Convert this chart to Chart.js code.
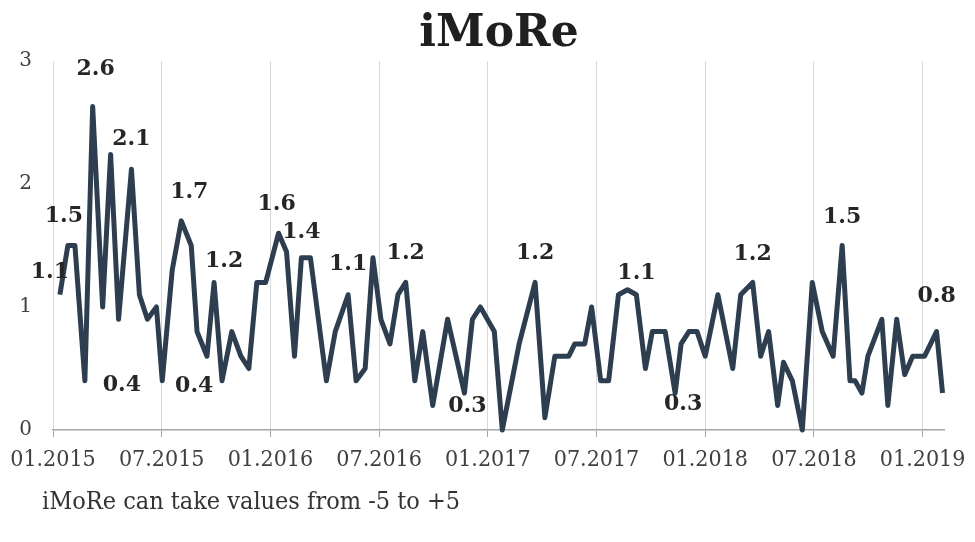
<!DOCTYPE html>
<html>
<head>
<meta charset="utf-8">
<title>iMoRe</title>
<script src="https://cdn.jsdelivr.net/npm/chart.js@4/dist/chart.umd.min.js"></script>
<style>
  html, body { margin: 0; padding: 0; background: #fff; }
  #chart { display: block; }
</style>
</head>
<body>
<canvas id="chart" width="975" height="542"></canvas>
<script>
// months since 01.2015 and the index value at each reading
const months = [
  0.38, 0.82, 1.21, 1.76, 2.19, 2.74, 3.18, 3.62, 4.33, 4.77,
  5.21, 5.71, 6.03, 6.58, 7.08, 7.63, 7.95, 8.50, 8.89, 9.33,
  9.87, 10.37, 10.81, 11.25, 11.74, 12.45, 12.89, 13.33, 13.71, 14.21,
  15.09, 15.58, 16.29, 16.73, 17.23, 17.66, 18.10, 18.60, 19.04, 19.47,
  19.97, 20.41, 20.96, 21.78, 22.71, 23.15, 23.59, 24.36, 24.80, 25.73,
  26.61, 27.15, 27.70, 28.47, 28.80, 29.35, 29.73, 30.23, 30.67, 31.21,
  31.71, 32.20, 32.70, 33.08, 33.79, 34.34, 34.67, 35.10, 35.55, 36.00,
  36.70, 37.52, 37.96, 38.62, 39.06, 39.50, 40.00, 40.32, 40.81, 41.36,
  41.91, 42.46, 43.06, 43.56, 43.99, 44.27, 44.65, 44.98, 45.75, 46.08,
  46.57, 47.01, 47.45, 48.11, 48.77, 49.10
];
const values = [
  1.1, 1.5, 1.5, 0.4, 2.63, 1.0, 2.24, 0.9, 2.12, 1.1,
  0.9, 1.0, 0.4, 1.3, 1.7, 1.5, 0.8, 0.6, 1.2, 0.4,
  0.8, 0.6, 0.5, 1.2, 1.2, 1.6, 1.45, 0.6, 1.4, 1.4,
  0.4, 0.8, 1.1, 0.4, 0.5, 1.4, 0.9, 0.7, 1.1, 1.2,
  0.4, 0.8, 0.2, 0.9, 0.3, 0.9, 1.0, 0.8, 0.0, 0.7,
  1.2, 0.1, 0.6, 0.6, 0.7, 0.7, 1.0, 0.4, 0.4, 1.1,
  1.14, 1.1, 0.5, 0.8, 0.8, 0.3, 0.7, 0.8, 0.8, 0.6,
  1.1, 0.5, 1.1, 1.2, 0.6, 0.8, 0.2, 0.55, 0.4, 0.0,
  1.2, 0.8, 0.6, 1.5, 0.4, 0.4, 0.3, 0.6, 0.9, 0.2,
  0.9, 0.45, 0.6, 0.6, 0.8, 0.3
];

// x ticks every half year
const tickMonths = [0, 6, 12, 18, 24, 30, 36, 42, 48];
const tickLabels = ['01.2015', '07.2015', '01.2016', '07.2016', '01.2017',
  '07.2017', '01.2018', '07.2018', '01.2019'];

// points that carry a value label
const labelIdx = [0, 1, 3, 4, 8, 12, 14, 18, 25, 28, 32, 39, 44, 50, 60, 65, 73, 83, 94];

const titleText = 'iMoRe';
const footText = 'iMoRe can take values from -5 to +5';

// placement of the value labels relative to their point
const labelOffsets = {
  0: [-10, -22], 1: [-4, -29], 3: [37, 4], 4: [3, -37], 8: [0, -30],
  12: [32, 5], 14: [8, -29], 18: [10, -21], 25: [-2, -29], 28: [0, -26],
  32: [0, -30], 39: [0, -29], 44: [3, 13], 50: [0, -29], 60: [9, -16],
  65: [8, 11], 73: [0, -28], 83: [0, -28], 94: [0, -35],
};

const serif = '"DejaVu Serif", "Liberation Serif", serif';
const serifCond = '"DejaVu Serif Condensed", "DejaVu Serif", serif';
const lineColor = '#2d3e50';

const textPlugin = {
  id: 'textPlugin',
  afterDatasetsDraw(chart) {
    const ctx = chart.ctx;
    const meta = chart.getDatasetMeta(0);
    ctx.save();
    ctx.font = 'bold 22px ' + serif;
    ctx.fillStyle = '#262626';
    ctx.textAlign = 'center';
    ctx.textBaseline = 'middle';
    labelIdx.forEach((i) => {
      const pt = meta.data[i];
      const off = labelOffsets[i] || [0, -28];
      ctx.fillText(values[i].toFixed(1), pt.x + off[0], pt.y + off[1]);
    });
    ctx.restore();
  },
  afterDraw(chart) {
    const ctx = chart.ctx;
    ctx.save();
    ctx.fillStyle = '#1f1f1f';
    ctx.textAlign = 'center';
    ctx.textBaseline = 'middle';
    ctx.font = 'bold 44px ' + serif;
    ctx.fillText(titleText, 499, 35);

    ctx.fillStyle = '#333333';
    ctx.textAlign = 'left';
    ctx.font = '25px ' + serifCond;
    ctx.fillText(footText, 42, 502);
    ctx.restore();
  },
};

const points = months.map((m, i) => ({ x: m, y: values[i] }));

new Chart(document.getElementById('chart'), {
  type: 'line',
  data: {
    datasets: [
      {
        data: points,
        borderColor: lineColor,
        backgroundColor: lineColor,
        borderWidth: 5,
        borderJoinStyle: 'round',
        borderCapStyle: 'butt',
        tension: 0,
        pointRadius: 0,
        pointHoverRadius: 0,
        clip: 8,
      },
    ],
  },
  options: {
    responsive: false,
    animation: false,
    events: [],
    layout: { padding: { top: 61, right: 25, left: 0, bottom: 0 } },
    plugins: {
      legend: { display: false },
      title: { display: false },
      tooltip: { enabled: false },
    },
    scales: {
      x: {
        type: 'linear',
        min: 0,
        max: 49.2,
        afterBuildTicks: (scale) => {
          scale.ticks = tickMonths.map((v) => ({ value: v }));
        },
        afterFit: (scale) => {
          scale.height = 112;
        },
        ticks: {
          autoSkip: false,
          maxRotation: 0,
          padding: 9,
          color: '#404040',
          font: { family: serifCond, size: 23 },
          callback: (value, index) => tickLabels[index],
        },
        grid: {
          color: '#d9d9d9',
          lineWidth: 1,
          tickColor: '#a6a6a6',
          tickLength: 7,
        },
        border: { color: '#a6a6a6', width: 1.5 },
      },
      y: {
        min: 0,
        max: 3,
        afterFit: (scale) => {
          scale.width = 53;
        },
        ticks: {
          stepSize: 1,
          padding: 21,
          color: '#404040',
          font: { family: serif, size: 20 },
        },
        grid: { display: false, drawTicks: false },
        border: { display: false },
      },
    },
  },
  plugins: [textPlugin],
});
</script>
</body>
</html>
